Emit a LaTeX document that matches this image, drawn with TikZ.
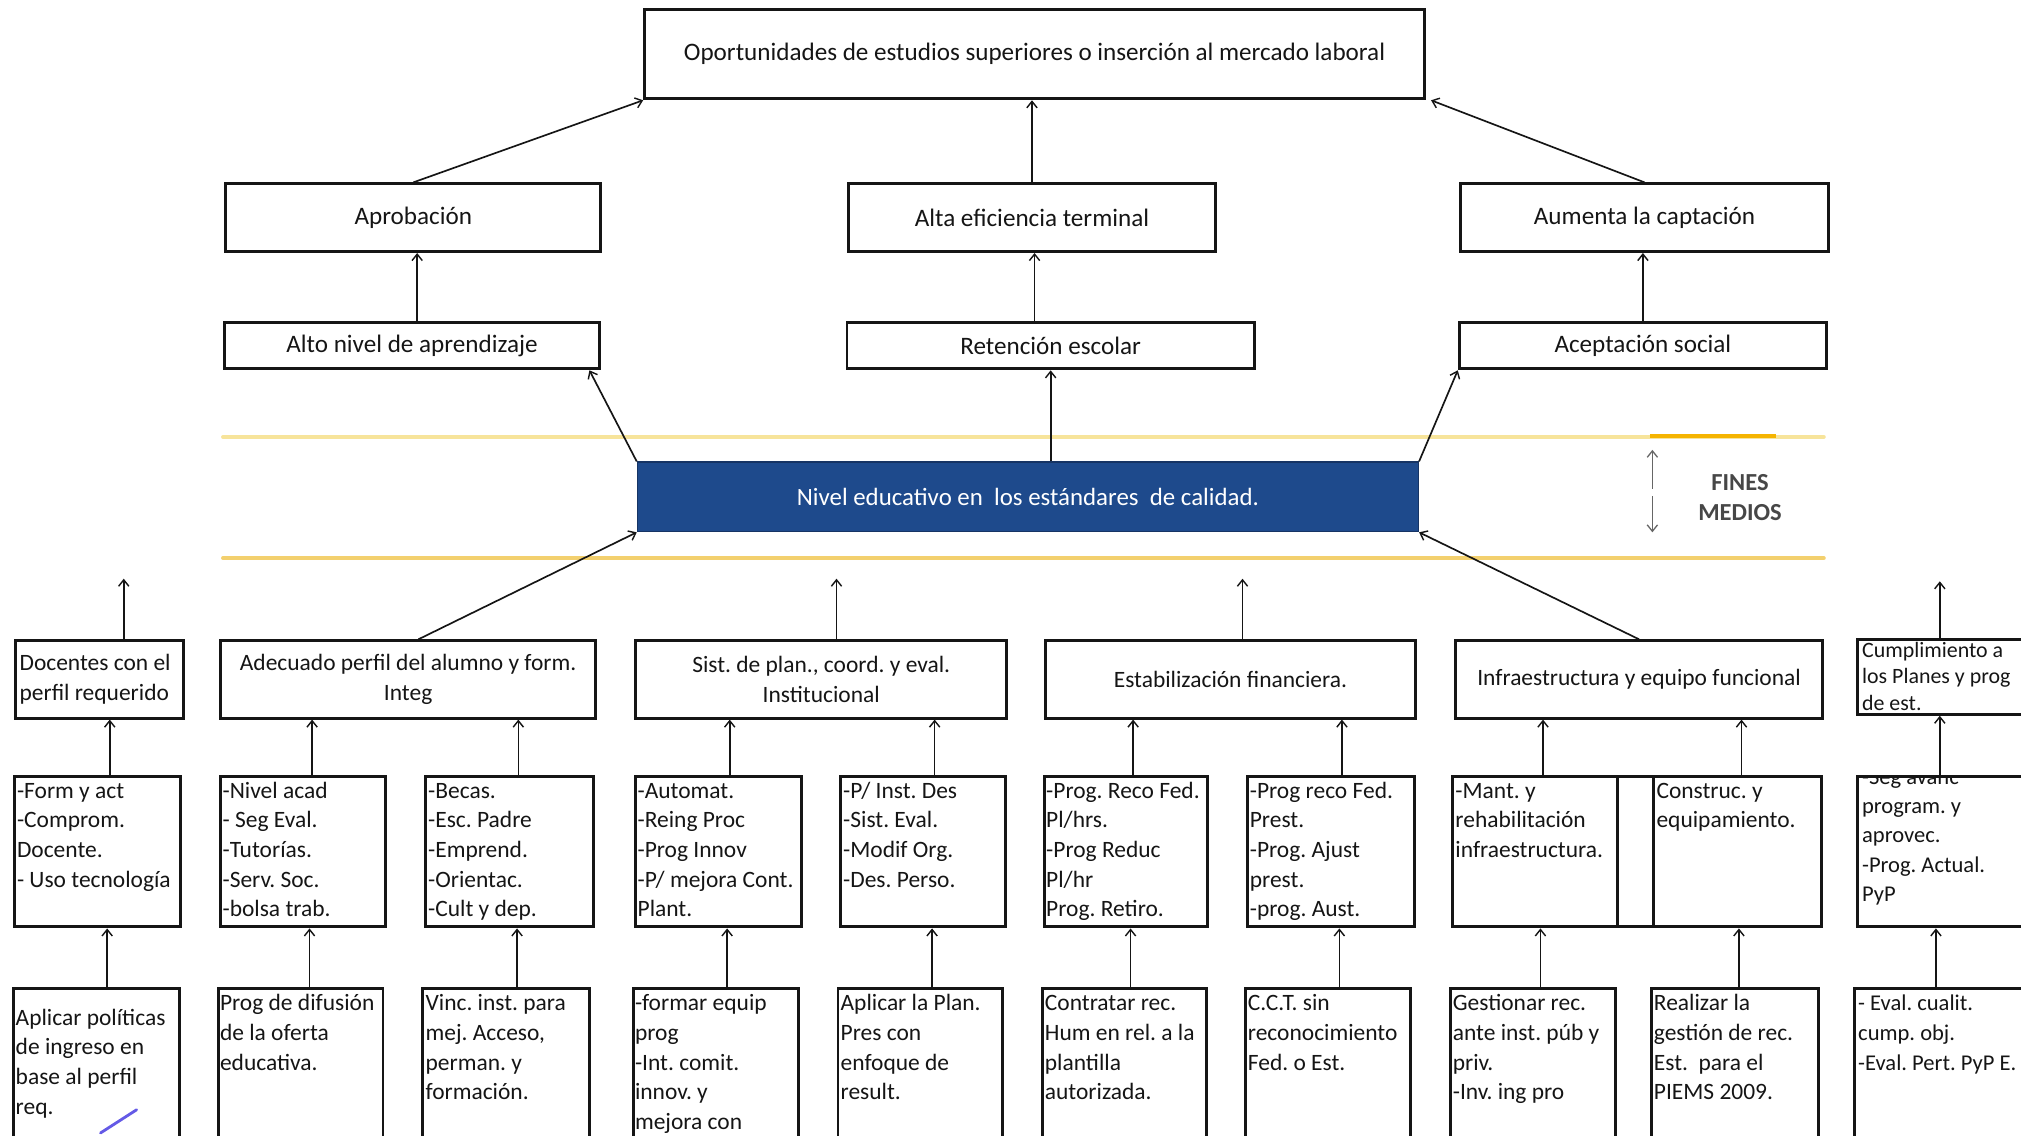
\documentclass[tikz,border=0pt]{standalone}
\usepackage{fontspec}
\setmainfont{Carlito}
\usetikzlibrary{arrows.meta,calc}
\frenchspacing
\definecolor{inkc}{HTML}{151515}
\definecolor{navy}{RGB}{30,74,140}
\definecolor{navyb}{RGB}{22,52,100}
\definecolor{goldl}{RGB}{247,228,155}
\definecolor{goldd}{RGB}{243,208,110}
\definecolor{orng}{RGB}{245,180,0}
\definecolor{pen}{RGB}{100,90,230}
\tikzset{
  bx/.style={draw=inkc, line width=2.3pt, inner sep=0pt, anchor=north west,
             font=\fontsize{18.2}{23}\selectfont, text=inkc},
  big/.style={font=\fontsize{19.5}{23}\selectfont},
  tx/.style={font=\fontsize{18.2}{23}\selectfont, text=inkc, align=left,
             anchor=north west, inner sep=0pt},
  arr/.style={draw=inkc, line width=1.3pt,
              -{Straight Barb[length=5pt,width=8pt,line width=1.1pt]}},
  garr/.style={draw=black!60, line width=1.2pt,
              -{Straight Barb[length=5pt,width=8pt,line width=1pt]}},
  goldline/.style={line width=3pt, line cap=round},
}
% \mkbox[options]{name}{x1}{y1}{x2}{y2}{text}
\newcommand\mkbox[7][]{%
  \pgfmathsetmacro\bw{#5-#3}\pgfmathsetmacro\bh{#6-#4}%
  \node[bx,minimum width=\bw pt,minimum height=\bh pt,#1] (#2) at (#3,#4) {#7};}
% upward connector with horizontal offset
\newcommand\upc[3]{\draw[arr] ([xshift=#3]#1.north) -- ([xshift=#3]#1.north |- #2.south);}
\begin{document}
\begin{tikzpicture}[x=1pt,y=-1pt]
\path[use as bounding box] (0,0) rectangle (1568,880.6);
\clip (0,0) rectangle (1568,880.6);

% ---------- upper part ----------
\mkbox[big]{top}{499}{6}{1104}{75.5}{Oportunidades de estudios superiores o inserción al mercado laboral}
\mkbox[big]{apr}{174}{141.5}{465}{194}{Aprobación}
\mkbox[big]{alta}{657}{141.5}{942}{194}{Alta eficiencia terminal}
\mkbox[big]{aum}{1132}{141.5}{1417.5}{194}{Aumenta la captación}
\mkbox[big]{alto}{173}{249}{464}{285}{Alto nivel de aprendizaje}
\mkbox[big]{ret}{656}{249}{972}{285}{Retención escolar}
\mkbox[big]{acep}{1131}{249}{1416}{285}{Aceptación social}

\draw[arr] (apr.north) -- (top.south west);
\draw[arr] (alta.north) -- (alta.north |- top.south);
\draw[arr] (aum.north) -- ([xshift=4]top.south east);
\draw[arr] ([xshift=4]alto.north) -- ([xshift=4]alto.north |- apr.south);
\draw[arr] ([xshift=2]alta.south |- ret.north) -- ([xshift=2]alta.south);
\draw[arr] (acep.north) -- (acep.north |- aum.south);

% ---------- gold bands ----------
\coordinate (g1l) at (173,339); \coordinate (g1r) at (1415,339);
\coordinate (g2l) at (173,433); \coordinate (g2r) at (1415,433);
\coordinate (o1) at (1280,338.5); \coordinate (o2) at (1378,338.5);
\draw[goldline, draw=goldl] (g1l) -- (g1r);
\draw[line width=3pt, draw=orng] (o1) -- (o2);
\draw[goldline, draw=goldd] (g2l) -- (g2r);

% ---------- central blue box ----------
\node[draw=navyb, line width=1pt, fill=navy, minimum width=606pt, minimum height=54pt,
      anchor=north west, inner sep=0pt, text=white, font=\fontsize{19.3}{22}\selectfont]
      (blue) at (494,358) {Nivel educativo en\ \ los estándares\ \ de calidad.};

\draw[arr] (blue.north west) -- ([xshift=-9]alto.south east);
\draw[arr] (ret.south |- blue.north) -- (ret.south);
\draw[arr] (blue.north east) -- (acep.south west);

% ---------- FINES / MEDIOS ----------
\coordinate (fu1) at (1282,379); \coordinate (fu2) at (1282,349);
\coordinate (fd1) at (1282,385); \coordinate (fd2) at (1282,413);
\draw[garr] (fu1) -- (fu2);
\draw[garr] (fd1) -- (fd2);
\node[font=\bfseries\fontsize{19}{24}\selectfont, text=black!72, inner sep=0pt, align=center]
      (fm) at (1350,386) {FINES\\MEDIOS};

% ---------- row 1 ----------
\mkbox{d1}{11}{496}{141}{556}{}
\node[tx] (d1t) at (15,504) {\strut Docentes con el\\perfil requerido};
\mkbox[align=center]{d2}{170}{496}{461}{556}{Adecuado perfil del alumno y form.\\Integ}
\mkbox[align=center]{d3}{492}{496}{780}{556}{Sist. de plan., coord. y eval.\\Institucional}
\mkbox{d4}{810}{496}{1097}{556}{Estabilización financiera.}
\mkbox{d5}{1128}{496}{1413}{556}{Infraestructura y equipo funcional}
\mkbox{d6}{1440}{495}{1600}{553}{}
\node[tx, font=\fontsize{17}{20.5}\selectfont] (d6t) at (1444.5,495.5) {\strut Cumplimiento a\\los Planes y prog\\de est.};

\draw[arr] ([xshift=8]d2.north) -- (blue.south west);
\draw[arr] (d5.north) -- (blue.south east);
\coordinate (f1) at (96,449); \coordinate (f3) at (649,449);
\coordinate (f4) at (964,449); \coordinate (f6) at (1505,451);
\draw[arr] (d1.north -| f1) -- (f1);
\draw[arr] (d3.north -| f3) -- (f3);
\draw[arr] (d4.north -| f4) -- (f4);
\draw[arr] (d6.north -| f6) -- (f6);

% ---------- row 2 ----------
\mkbox{ra}{10}{601}{139}{718}{}
\mkbox{rb}{170}{601}{298}{718}{}
\mkbox{rc}{329}{601}{459}{718}{}
\mkbox{rd}{492}{601}{621}{718}{}
\mkbox{re}{651}{601}{779}{718}{}
\mkbox{rf}{809}{601}{936}{718}{}
\mkbox{rg}{967}{601}{1096}{718}{}
\mkbox{rh}{1126}{601}{1254}{718}{}
\mkbox{rgap}{1254}{601}{1282}{718}{}
\mkbox{ri}{1282}{601}{1412}{718}{}
\mkbox{rj}{1440}{601}{1600}{718}{}

\node[tx] (rat) at (13,603) {\strut -Form y act\\-Comprom.\\Docente.\\- Uso tecnología};
\node[tx] (rbt) at (172.5,603) {\strut -Nivel acad\\- Seg Eval.\\-Tutorías.\\-Serv. Soc.\\-bolsa trab.};
\node[tx] (rct) at (332,603) {\strut -Becas.\\-Esc. Padre\\-Emprend.\\-Orientac.\\-Cult y dep.};
\node[tx] (rdt) at (494.5,603) {\strut -Automat.\\-Reing Proc\\-Prog Innov\\-P/ mejora Cont.\\Plant.};
\node[tx] (ret2) at (654,603) {\strut -P/ Inst. Des\\-Sist. Eval.\\-Modif Org.\\-Des. Perso.};
\node[tx] (rft) at (811.5,603) {\strut -Prog. Reco Fed.\\Pl/hrs.\\-Prog Reduc\\Pl/hr\\Prog. Retiro.};
\node[tx] (rgt) at (969.5,603) {\strut -Prog reco Fed.\\Prest.\\-Prog. Ajust\\prest.\\-prog. Aust.};
\node[tx] (rht) at (1129,603) {\strut -Mant. y\\rehabilitación\\infraestructura.};
\node[tx] (rit) at (1285,603) {\strut Construc. y\\equipamiento.};
\begin{scope}
  \clip (1441,602.5) rectangle (1568,717);
  \node[tx, font=\fontsize{17.5}{22.7}\selectfont] (rjt) at (1444.5,592.5) {\strut -Seg avanc\\program. y\\aprovec.\\-Prog. Actual.\\PyP};
\end{scope}

\coordinate (cj2) at (1505,0);
\coordinate (cj3) at (1502,0);
\upc{ra}{d1}{9.5}
\upc{rb}{d2}{7}
\upc{rc}{d2}{7}
\upc{rd}{d3}{8.5}
\upc{re}{d3}{9}
\upc{rf}{d4}{5.5}
\upc{rg}{d4}{8.5}
\upc{rh}{d5}{6}
\upc{ri}{d5}{3}
\draw[arr] (rj.north -| cj2) -- (d6.south -| cj2);

% ---------- row 3 ----------
\mkbox{sa}{9}{766}{138}{920}{}
\mkbox{sb}{168}{766}{296}{920}{}
\mkbox{sc}{327}{766}{456}{920}{}
\mkbox{sd}{490}{766}{618}{920}{}
\mkbox{se}{649}{766}{777}{920}{}
\mkbox{sf}{808}{766}{935}{920}{}
\mkbox{sg}{965}{766}{1093}{920}{}
\mkbox{sh}{1124}{766}{1252}{920}{}
\mkbox{si}{1280}{766}{1410}{920}{}
\mkbox{sj}{1438}{766}{1600}{920}{}

\node[tx] (sat) at (12,779) {\strut Aplicar políticas\\de ingreso en\\base al perfil\\req.};
\node[tx] (sbt) at (170.5,768) {\strut Prog de difusión\\de la oferta\\educativa.};
\node[tx] (sct) at (330,768) {\strut Vinc. inst. para\\mej. Acceso,\\perman. y\\formación.};
\node[tx] (sdt) at (492.5,768) {\strut -formar equip\\prog\\-Int. comit.\\innov. y\\mejora con};
\node[tx] (set) at (652,768) {\strut Aplicar la Plan.\\Pres con\\enfoque de\\result.};
\node[tx] (sft) at (810.5,768) {\strut Contratar rec.\\Hum en rel. a la\\plantilla\\autorizada.};
\node[tx] (sgt) at (968,768) {\strut C.C.T. sin\\reconocimiento\\Fed. o Est.};
\node[tx] (sht) at (1127,768) {\strut Gestionar rec.\\ante inst. púb y\\priv.\\-Inv. ing pro};
\node[tx] (sit) at (1283,768) {\strut Realizar la\\gestión de rec.\\Est.\ \ para el\\PIEMS 2009.};
\node[tx, font=\fontsize{17.5}{23}\selectfont] (sjt) at (1441.5,768) {\strut - Eval. cualit.\\cump. obj.\\-Eval. Pert. PyP E.};

\upc{sa}{ra}{8.5}
\upc{sb}{rb}{7}
\upc{sc}{rc}{8.5}
\upc{sd}{rd}{9}
\upc{se}{re}{9}
\upc{sf}{rf}{4.5}
\upc{sg}{rg}{9}
\upc{sh}{rh}{6}
\upc{si}{ri}{3}
\draw[arr] (sj.north -| cj3) -- (rj.south -| cj3);

% pen mark
\coordinate (p1) at (78,879); \coordinate (p2) at (106,861);
\draw[pen, line width=2.2pt, line cap=round] (p1) -- (p2);
\end{tikzpicture}
\end{document}
